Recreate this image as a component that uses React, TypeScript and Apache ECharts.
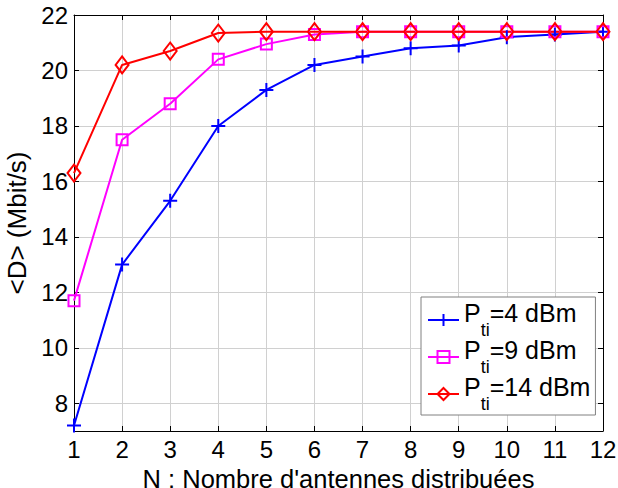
import React, { useEffect, useRef } from 'react';
import * as echarts from 'echarts';

// Data
const N_VALUES = [1, 2, 3, 4, 5, 6, 7, 8, 9, 10, 11, 12];
const D_PTI_4 = [7.2, 13.0, 15.3, 18.0, 19.3, 20.2, 20.5, 20.8, 20.9, 21.2, 21.3, 21.4];
const D_PTI_9 = [11.7, 17.5, 18.8, 20.4, 20.95, 21.3, 21.4, 21.4, 21.4, 21.4, 21.4, 21.4];
const D_PTI_14 = [16.3, 20.2, 20.7, 21.35, 21.4, 21.4, 21.4, 21.4, 21.4, 21.4, 21.4, 21.4];
const Y_TICKS = [8, 10, 12, 14, 16, 18, 20, 22];
const SERIES_NAMES = ['Pti=4 dBm', 'Pti=9 dBm', 'Pti=14 dBm'];
const LEGEND_SUFFIX = ['=4 dBm', '=9 dBm', '=14 dBm'];

const FONT = 'Liberation Sans, Arial, Helvetica, sans-serif';
const BLUE = '#0000ff';
const MAGENTA = '#ff00ff';
const RED = '#ff0000';
const GRID_COLOR = '#d0d0d0';

const PLUS = 'path://M0,7L14,7M7,0L7,14';

function pairs(ys: number[]) {
  return N_VALUES.map((n, i) => [n, ys[i]]);
}

export default function App() {
  const ref = useRef<HTMLDivElement>(null);
  useEffect(() => {
    if (!ref.current) return;
    const chart = echarts.init(ref.current, null, { renderer: 'svg' });
    const mkSeries = (name: string, data: number[], color: string, symbol: string, size: any) => ({
      name,
      type: 'line',
      xAxisIndex: 0,
      yAxisIndex: 0,
      data: pairs(data),
      symbol,
      symbolSize: size,
      showAllSymbol: true,
      lineStyle: { color, width: 2 },
      itemStyle: { color: 'transparent', borderColor: color, borderWidth: 2 },
      emphasis: { disabled: true },
    });
    chart.setOption({
      animation: false,
      textStyle: { fontFamily: FONT },
      grid: { left: 74, right: 15, top: 15, bottom: 57, containLabel: false, outerBoundsMode: 'none' },
      xAxis: [
        {
          type: 'value',
          min: 1,
          max: 12,
          interval: 1,
          position: 'bottom',
          name: "N : Nombre d'antennes distribuées",
          nameLocation: 'middle',
          nameGap: 27,
          nameTextStyle: { fontSize: 25.5, lineHeight: 26, color: '#000', fontFamily: FONT },
          axisLine: { show: true, lineStyle: { color: '#000', width: 1 } },
          axisTick: { show: true, inside: true, length: 5, lineStyle: { color: '#000' } },
          axisLabel: { fontSize: 24, color: '#000', margin: 6, fontFamily: FONT },
          splitLine: { show: true, lineStyle: { color: GRID_COLOR, width: 1 } },
        },
        {
          type: 'value',
          min: 1,
          max: 12,
          interval: 1,
          position: 'top',
          axisLine: { show: true, lineStyle: { color: '#000', width: 1 } },
          axisTick: { show: true, inside: true, length: 5, lineStyle: { color: '#000' } },
          axisLabel: { show: false },
          splitLine: { show: false },
        },
      ],
      yAxis: [
        {
          type: 'value',
          min: 7,
          max: 22,
          position: 'left',
          name: '<D> (Mbit/s)',
          nameLocation: 'middle',
          nameGap: 37,
          nameTextStyle: { fontSize: 26, color: '#000', fontFamily: FONT },
          axisLine: { show: true, lineStyle: { color: '#000', width: 1 } },
          axisTick: { show: true, inside: true, length: 5, customValues: Y_TICKS, lineStyle: { color: '#000' } },
          axisLabel: { fontSize: 24, color: '#000', margin: 6, customValues: Y_TICKS, fontFamily: FONT },
          splitLine: { show: true, lineStyle: { color: GRID_COLOR, width: 1 } },
        },
        {
          type: 'value',
          min: 7,
          max: 22,
          position: 'right',
          axisLine: { show: true, lineStyle: { color: '#000', width: 1 } },
          axisTick: { show: true, inside: true, length: 5, customValues: Y_TICKS, lineStyle: { color: '#000' } },
          axisLabel: { show: false },
          splitLine: { show: false },
        },
      ],
      legend: {
        show: true,
        orient: 'vertical',
        left: 421,
        top: 297,
        padding: [0, 5, 2, 6],
        itemGap: -5,
        itemWidth: 31,
        itemHeight: 15,
        backgroundColor: '#fff',
        borderColor: '#808080',
        borderWidth: 1,
        borderRadius: 0,
        selectedMode: false,
        data: SERIES_NAMES,
        formatter: (name: string) => {
          const i = SERIES_NAMES.indexOf(name);
          return '{p|P}{s|ti}{p|' + LEGEND_SUFFIX[i] + '}';
        },
        textStyle: {
          fontFamily: FONT,
          color: '#000',
          rich: {
            p: { fontSize: 25, fontFamily: FONT, color: '#000', lineHeight: 46, padding: [3.5, 0, 0, 0], verticalAlign: 'top' },
            s: { fontSize: 18, fontFamily: FONT, color: '#000', lineHeight: 12, padding: [24, 0, 0, 0], verticalAlign: 'top' },
          },
        },
      },
      series: [
        mkSeries(SERIES_NAMES[0], D_PTI_4, BLUE, PLUS, [14, 14]),
        mkSeries(SERIES_NAMES[1], D_PTI_9, MAGENTA, 'rect', [11, 11]),
        mkSeries(SERIES_NAMES[2], D_PTI_14, RED, 'diamond', [13, 17]),
      ],
    });
    return () => chart.dispose();
  }, []);
  return <div ref={ref} style={{ position: 'fixed', left: 0, top: 0, width: 618, height: 488, background: '#fff' }} />;
}
